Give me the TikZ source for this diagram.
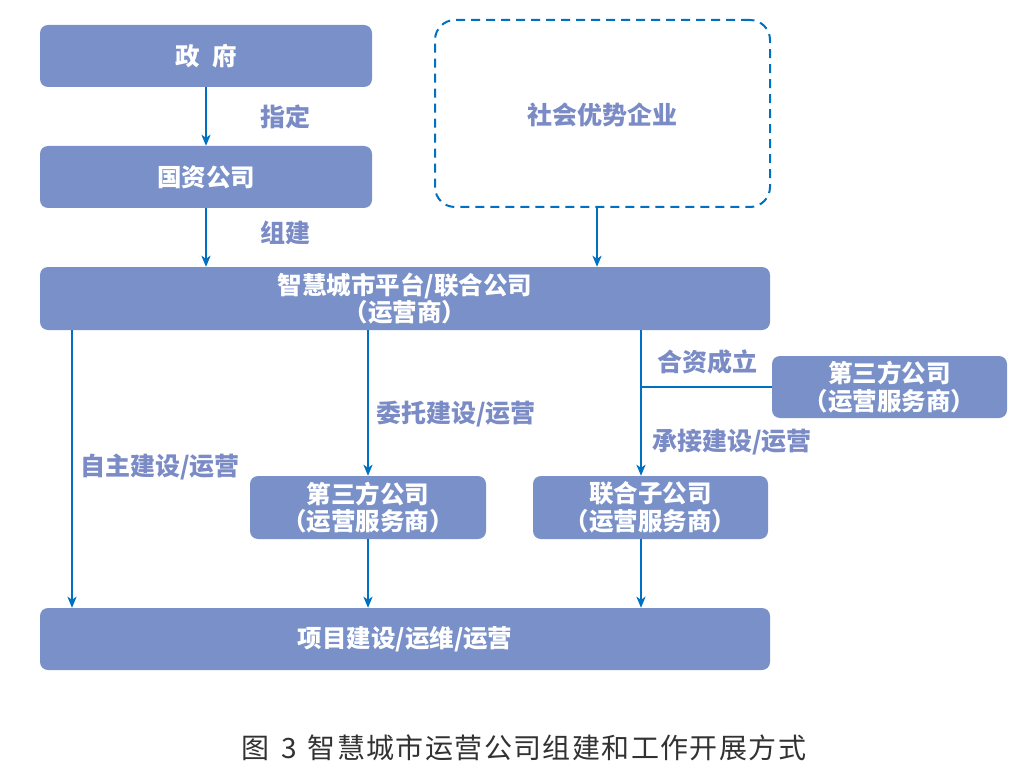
\documentclass[tikz,border=0pt]{standalone}
\usepackage{fontspec}
\setmainfont{Noto Sans CJK SC}
\newfontfamily\capfont[LetterSpace=5]{Noto Sans CJK SC}
\usetikzlibrary{arrows.meta}
\definecolor{boxfill}{RGB}{121,144,200}
\definecolor{labtxt}{RGB}{122,139,198}
\definecolor{arrblue}{RGB}{0,112,192}
\definecolor{captxt}{RGB}{50,50,50}
\tikzset{
  box/.style={fill=boxfill, rounded corners=8pt, inner sep=0pt, text=white,
    font=\fontsize{24.5}{27.5}\selectfont\bfseries, align=center},
  lab/.style={text=labtxt, font=\fontsize{25}{28}\selectfont\bfseries, inner sep=0pt},
  arr/.style={draw=arrblue, line width=2pt, -{Stealth[length=11pt,width=9pt,inset=3pt]}},
  ln/.style={draw=arrblue, line width=2pt},
}
\begin{document}
\begin{tikzpicture}[x=1pt,y=-1pt]
\useasboundingbox (0,0) rectangle (1025,778);
\node[box, minimum width=332, minimum height=62] (gov) at (206,56) {政\hspace{0.5em}府};
\node[box, minimum width=332, minimum height=62] (sa) at (206,177) {国资公司};
\node[draw=arrblue, line width=2pt, dash pattern=on 9pt off 6pt, rounded corners=20pt,
  minimum width=335, minimum height=187, inner sep=0pt] (soc) at (602.5,113.5) {};
\node[lab] at (602,115) {社会优势企业};
\node[box, minimum width=730, minimum height=63] (plat) at (405,298.5) {智慧城市平台/联合公司\\（运营商）};
\node[box, minimum width=235, minimum height=62] (rt) at (889.5,387) {第三方公司\\（运营服务商）};
\node[box, minimum width=236, minimum height=63] (mid) at (368,507.5) {第三方公司\\（运营服务商）};
\node[box, minimum width=235, minimum height=63] (joint) at (650.5,507.5) {联合子公司\\（运营服务商）};
\node[box, minimum width=730, minimum height=62] (proj) at (405,639) {项目建设/运维/运营};
\coordinate (jx) at (641,0);
\coordinate (lx) at (72,0);
% connectors
\draw[arr] (gov.south) -- (sa.north);
\draw[arr] (sa.south) -- (sa.south |- plat.north);
\draw[arr] ([xshift=-5.5pt]soc.south) -- ([xshift=-5.5pt]soc.south |- plat.north);
\draw[arr] (plat.south -| lx) -- (proj.north -| lx);
\draw[arr] (plat.south -| mid.north) -- (mid.north);
\draw[arr] (plat.south -| jx) -- (joint.north -| jx);
\draw[ln] (rt.west) -- (rt.west -| jx);
\draw[arr] (mid.south) -- (proj.north -| mid.south);
\draw[arr] (joint.south -| jx) -- (proj.north -| jx);
% labels
\node[lab] at (285,117) {指定};
\node[lab] at (285,233) {组建};
\node[lab] at (160,467) {自主建设/运营};
\node[lab] at (456,414) {委托建设/运营};
\node[lab] at (707,362) {合资成立};
\node[lab] at (732,442) {承接建设/运营};
\node[text=captxt, font=\capfont\fontsize{28}{32}\selectfont, inner sep=0pt] (cap) at (524,748) {图\hspace{0.4em}3\hspace{0.4em}智慧城市运营公司组建和工作开展方式};
\end{tikzpicture}
\end{document}
